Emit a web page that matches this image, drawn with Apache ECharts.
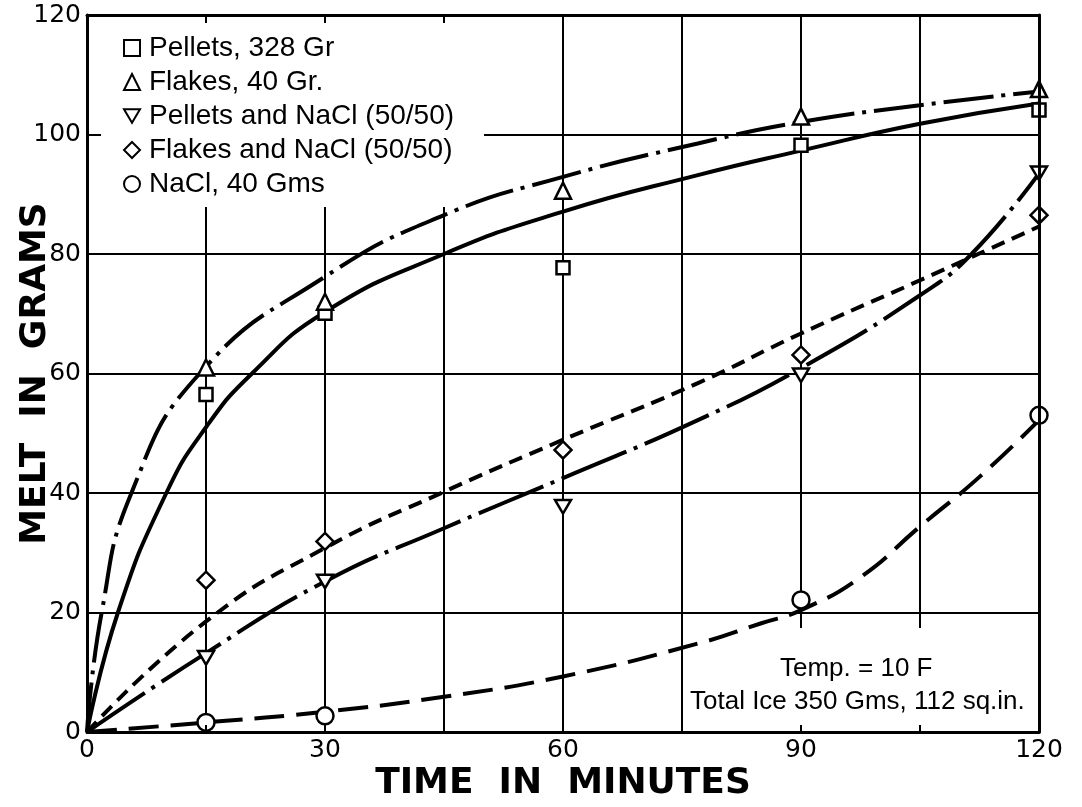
<!DOCTYPE html>
<html><head><meta charset="utf-8">
<script src="https://cdn.jsdelivr.net/npm/echarts@6/dist/echarts.min.js"></script>
<style>html,body{margin:0;padding:0;background:#fff}#c{width:1082px;height:807px}</style>
</head><body><div id="c"></div>
<script>
// ---- data ----
const seriesNames = ['Pellets, 328 Gr', 'Flakes, 40 Gr.', 'Pellets and NaCl (50/50)', 'Flakes and NaCl (50/50)', 'NaCl, 40 Gms'];
const xTicks = [0, 30, 60, 90, 120];
const yTicks = [0, 20, 40, 60, 80, 100, 120];

// measured points (markers)
const pelletsPoints     = [[15,56.5],[30,70.1],[60,77.7],[90,98.2],[120,104.1]];
const flakesPoints      = [[15,61],[30,72],[60,90.6],[90,103],[120,107.6]];
const pelletsNaClPoints = [[15,12.4],[30,25.2],[60,37.7],[90,59.7],[120,93.5]];
const flakesNaClPoints  = [[15,25.4],[30,31.9],[60,47.2],[90,63.1],[120,86.5]];
const naclPoints        = [[15,1.6],[30,2.7],[90,22.1],[120,53]];

// drawn curves
const pelletsCurve     = [[0,0],[3.9,20],[10,40],[15,51],[20.8,60],[30,70.3],[45,80],[60,87.1],[77,93.2],[90,97.3],[105,101.8],[120,105.2]];
const flakesCurve      = [[0,0],[1.85,20],[5.6,40],[14.2,60],[30,76.2],[45,86.5],[60,92.9],[77,98.5],[90,102.1],[105,104.9],[120,107.2]];
const pelletsNaClCurve = [[0,0],[15,13.2],[30,25.2],[45,34.1],[60,42.5],[77,52.2],[90,60.9],[105,73.1],[111.5,80],[120,93.5]];
const flakesNaClCurve  = [[0,0],[15,18.5],[30,30.8],[45,40.2],[60,48.9],[77,58.4],[90,66.7],[105,75.6],[120,84.6]];
const naclCurve        = [[0,0],[15,1.6],[30,3.4],[45,5.9],[60,9.3],[77,14.8],[85,18.2],[90,20.4],[97.5,25.9],[105,34.4],[112.5,42.7],[120,52.2]];

const annotationLines = ['Temp. = 10 F', 'Total Ice 350 Gms, 112 sq.in.'];

// ---- chart ----
const pointSets = [pelletsPoints, flakesPoints, pelletsNaClPoints, flakesNaClPoints, naclPoints];
const curveSets = [pelletsCurve, flakesCurve, pelletsNaClCurve, flakesNaClCurve, naclCurve];
const symbols = ['rect', 'triangle', 'path://M0,0 L20,0 L10,17 Z', 'diamond', 'circle'];
const symbolSizes = [13, 16, 16, 17, 17];
const dashTypes = ['solid', [50, 8, 4, 8], [70, 8, 4, 8], [14, 8], [30, 12]];

const NUMFONT = 'DejaVu Sans';
const TXTFONT = 'Liberation Sans';

const series = [];
curveSets.forEach((c, i) => {
  series.push({
    type: 'line', name: 'curve' + i, data: c, smooth: 0.5,
    showSymbol: false, symbol: 'none', z: 3, silent: true,
    lineStyle: { color: '#000', width: 4, type: dashTypes[i], cap: 'butt' }
  });
});
pointSets.forEach((p, i) => {
  series.push({
    type: 'scatter', name: seriesNames[i], data: p, symbol: symbols[i], symbolSize: symbolSizes[i],
    symbolKeepAspect: true, z: 4, clip: false,
    itemStyle: { color: '#fff', borderColor: '#000', borderWidth: 2.5, opacity: 1 }
  });
});

const chart = echarts.init(document.getElementById('c'), null, { renderer: 'canvas' });
chart.setOption({
  animation: false,
  backgroundColor: '#fff',
  grid: { left: 87, top: 15, width: 952, height: 717, containLabel: false, outerBoundsMode: 'none' },
  legend: {
    orient: 'vertical', left: 118, top: 29, itemGap: 6, itemWidth: 16, itemHeight: 16,
    data: seriesNames, z: 5, selectedMode: false,
    textStyle: { fontFamily: TXTFONT, fontSize: 28, color: '#000', lineHeight: 22, padding: [0, 0, 0, 4] }
  },
  xAxis: [
    { type: 'value', min: 0, max: 120, interval: 15, position: 'bottom', z: 0,
      axisLine: { show: true, onZero: false, lineStyle: { color: '#000', width: 3 } },
      axisTick: { show: false },
      splitLine: { show: true, lineStyle: { color: '#000', width: 2 } },
      axisLabel: { color: '#000', fontFamily: NUMFONT, fontSize: 25, margin: 6,
        formatter: v => xTicks.includes(v) ? String(v) : '' },
      name: 'TIME  IN  MINUTES', nameLocation: 'middle', nameGap: 34, nameMoveOverlap: false,
      nameTextStyle: { fontFamily: NUMFONT, fontWeight: 'bold', fontSize: 36, color: '#000' } },
    { type: 'value', min: 0, max: 120, interval: 15, position: 'top', z: 10,
      axisLine: { show: true, onZero: false, lineStyle: { color: '#000', width: 3 } },
      axisTick: { show: true, inside: true, length: 8, lineStyle: { color: '#000', width: 2 } },
      splitLine: { show: false }, axisLabel: { show: false } },
    { type: 'value', min: 0, max: 120, interval: 15, position: 'bottom', z: 10,
      axisLine: { show: false },
      axisTick: { show: true, inside: true, length: 7, lineStyle: { color: '#000', width: 2 } },
      splitLine: { show: false }, axisLabel: { show: false } }
  ],
  yAxis: [
    { type: 'value', min: 0, max: 120, interval: 20, position: 'left', z: 0,
      axisLine: { show: true, onZero: false, lineStyle: { color: '#000', width: 3 } },
      axisTick: { show: false },
      splitLine: { show: true, lineStyle: { color: '#000', width: 2 } },
      axisLabel: { color: '#000', fontFamily: NUMFONT, fontSize: 25, margin: 6,
        formatter: v => yTicks.includes(v) ? String(v) : '' },
      name: 'MELT  IN  GRAMS', nameLocation: 'middle', nameGap: 33, nameRotate: 90, nameMoveOverlap: false,
      nameTextStyle: { fontFamily: NUMFONT, fontWeight: 'bold', fontSize: 36, color: '#000' } },
    { type: 'value', min: 0, max: 120, interval: 20, position: 'left', z: 10,
      axisLine: { show: false },
      axisTick: { show: true, inside: true, length: 14, lineStyle: { color: '#000', width: 2 } },
      splitLine: { show: false }, axisLabel: { show: false } },
    { type: 'value', min: 0, max: 120, interval: 20, position: 'right', z: 10,
      axisLine: { show: true, onZero: false, lineStyle: { color: '#000', width: 3 } },
      axisTick: { show: false }, splitLine: { show: false }, axisLabel: { show: false } }
  ],
  graphic: [
    { type: 'rect', z: 1, silent: true, shape: { x: 89, y: 17, width: 395, height: 190 }, style: { fill: '#fff' } },
    { type: 'rect', z: 1, silent: true, shape: { x: 690, y: 628, width: 347, height: 102 }, style: { fill: '#fff' } },
    { type: 'text', z: 6, silent: true, left: 780, top: 656,
      style: { text: annotationLines[0], fontFamily: TXTFONT, fontSize: 26, fill: '#000' } },
    { type: 'text', z: 6, silent: true, left: 690, top: 689,
      style: { text: annotationLines[1], fontFamily: TXTFONT, fontSize: 26, fill: '#000' } }
  ],
  series: series
});
</script></body></html>
